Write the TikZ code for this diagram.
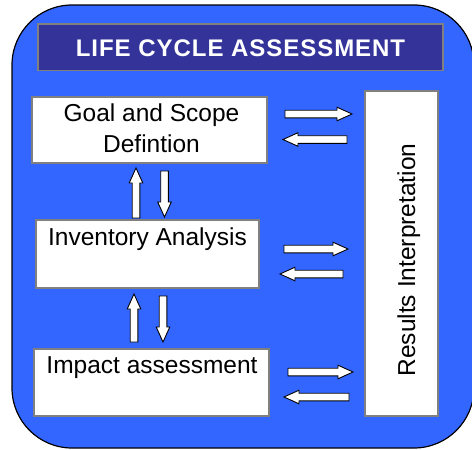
\documentclass[tikz,border=0pt]{standalone}
\usepackage{fontspec}
\setmainfont{Liberation Sans}
\definecolor{panelblue}{HTML}{3366FF}
\definecolor{titleblue}{HTML}{333399}
\definecolor{edgegray}{HTML}{808080}
% hollow block arrow: tail at (#1,#2), direction #3 (degrees), length #4
\newcommand\blockarrow[4]{%
  \draw[blockarrow, shift={(#1,#2)}, rotate=#3]
    (0,-3.8) -- ({#4-15},-3.8) -- ({#4-15},-6.8) -- (#4,0)
    -- ({#4-15},6.8) -- ({#4-15},3.8) -- (0,3.8) -- cycle;}
\begin{document}
\begin{tikzpicture}[x=1pt,y=-1pt,
  panel/.style={draw=black, line width=1.2pt, fill=panelblue, rounded corners=60pt},
  titlebar/.style={draw=edgegray, line width=1.5pt, fill=titleblue, inner sep=0pt},
  stagebox/.style={draw=edgegray, line width=1.3pt, fill=white, inner sep=0pt},
  titletext/.style={text=white, font=\fontsize{24}{28}\selectfont\bfseries\addfontfeature{LetterSpace=4}, inner sep=0pt},
  boxtext/.style={text=black, font=\fontsize{24.5}{31.7}\selectfont, inner sep=0pt},
  blockarrow/.style={draw=black, line width=0.9pt, fill=white, line join=miter}]
\useasboundingbox (0,0) rectangle (472,450);
\clip (0,0) rectangle (472,450);

% outer panel
\path[panel] (12,5) rectangle (474,448);

% title bar
\node[titlebar, minimum width=405pt, minimum height=46.5pt] (bar) at (240.5,47.25) {};
\node[titletext, anchor=base] (title) at (240.5,56.7) {LIFE CYCLE ASSESSMENT};

% stage boxes
\node[stagebox, minimum width=235pt, minimum height=66pt] (goal) at (149.5,130) {};
\node[boxtext, anchor=base] (goalA) at (151.5,121) {Goal and Scope};
\node[boxtext, anchor=base] (goalB) at (151.5,152.7) {Defintion};

\node[stagebox, minimum width=223pt, minimum height=68pt] (inv) at (147.5,254) {};
\node[boxtext, anchor=base] (invtxt) at (147.5,245.7) {Inventory Analysis};

\node[stagebox, minimum width=235pt, minimum height=67pt] (imp) at (151.5,382.5) {};
\node[boxtext, anchor=base] (imptxt) at (152,373) {Impact assessment};

\node[stagebox, minimum width=73pt, minimum height=325pt] (res) at (401.5,253.5) {};
\node[boxtext, anchor=base, rotate=90] (restxt) at (415,260) {Results Interpretation};

% horizontal exchanges with the interpretation column
\blockarrow{285}{114}{0}{67}
\blockarrow{347}{139.5}{180}{64}
\blockarrow{284}{249}{0}{64}
\blockarrow{343}{274}{180}{63}
\blockarrow{288}{372}{0}{65}
\blockarrow{349}{397}{180}{65}

% vertical exchanges between the stages
\blockarrow{136}{218}{90}{50}
\blockarrow{164.5}{171}{-90}{46}
\blockarrow{134}{342}{90}{48}
\blockarrow{163}{296}{-90}{46}
\end{tikzpicture}
\end{document}
